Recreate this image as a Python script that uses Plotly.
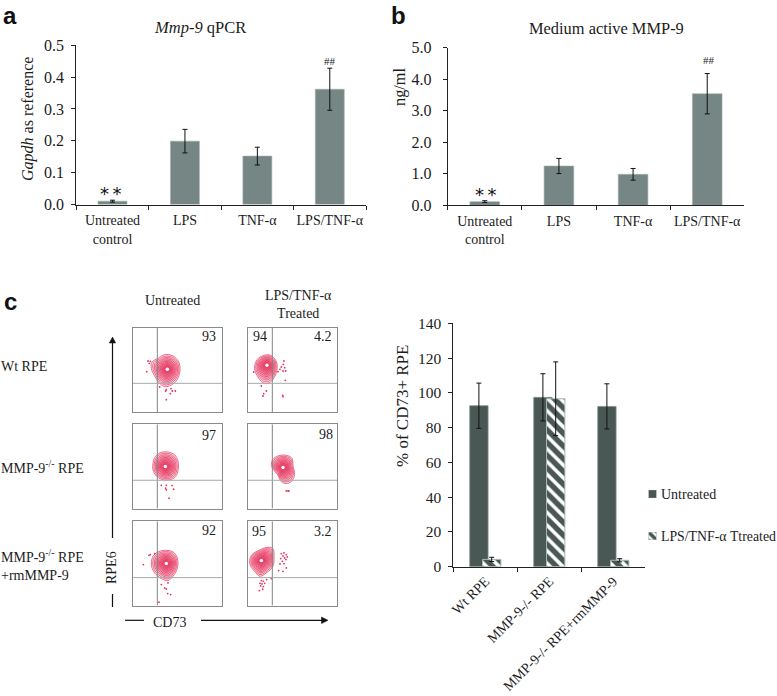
import plotly.graph_objects as go

# ---- bar data
treatments = ["Untreated<br>control", "LPS", "TNF-α", "LPS/TNF-α"]
qpcr_values = [0.0105, 0.199, 0.152, 0.362]
qpcr_errors = [0.003, 0.037, 0.028, 0.066]
qpcr_ticks = [0, 0.1, 0.2, 0.3, 0.4, 0.5]
qpcr_ticktext = ["0.0", "0.1", "0.2", "0.3", "0.4", "0.5"]

medium_values = [0.116, 1.247, 0.983, 3.54]
medium_errors = [0.03, 0.24, 0.185, 0.64]
medium_ticks = [0, 1, 2, 3, 4, 5]
medium_ticktext = ["0.0", "1.0", "2.0", "3.0", "4.0", "5.0"]

cell_groups = ["Wt RPE", "MMP-9-/- RPE", "MMP-9-/- RPE+rmMMP-9"]
untreated_values = [92.6, 97.4, 92.2]
untreated_errors = [13, 13.6, 13]
treated_values = [4.2, 96.6, 3.7]
treated_errors = [1.2, 21.2, 0.9]
percent_ticks = [0, 20, 40, 60, 80, 100, 120, 140]

# ---- flow plots, read in units of 1/3 px from the top left corner of each box
ring_scales = [1, 0.9, 0.8, 0.71, 0.62, 0.54, 0.46, 0.39, 0.32, 0.26, 0.2, 0.15, 0.1]

outer_1 = [(57, 103), (75, 92), (95, 81), (120, 85), (137, 102), (141, 130), (133, 155), (115, 172), (95, 177), (78, 165), (65, 145), (55, 122)]
outer_2 = [(20, 115), (28, 95), (45, 84), (65, 82), (80, 93), (87, 108), (85, 135), (75, 155), (60, 167), (45, 165), (30, 148), (21, 130)]
outer_3 = [(60, 118), (65, 100), (80, 86), (105, 83), (125, 92), (135, 110), (135, 140), (125, 160), (105, 167), (85, 165), (70, 155), (60, 137)]
outer_4 = [(70, 120), (75, 105), (90, 95), (115, 93), (132, 102), (135, 125), (140, 150), (130, 172), (115, 178), (100, 172), (88, 150), (75, 135)]
outer_5 = [(55, 125), (60, 105), (75, 92), (95, 87), (120, 92), (133, 110), (133, 140), (120, 165), (105, 178), (85, 172), (65, 155), (57, 140)]
outer_6 = [(5, 118), (12, 100), (35, 86), (60, 78), (75, 82), (78, 110), (75, 135), (55, 155), (35, 165), (20, 150), (8, 135)]

centers = [(103, 125), (57, 113), (97, 127), (105, 130), (100, 127), (40, 118)]

dots_1 = [(45, 100), (49, 107), (52, 101), (41, 132), (80, 178), (100, 186), (114, 183), (118, 190), (127, 190), (112, 198), (100, 216), (98, 190)]
dots_2 = [(108, 100), (106, 110), (100, 118), (110, 120), (96, 125), (105, 130), (113, 130), (112, 158), (90, 132), (104, 203), (105, 207), (45, 205), (47, 198), (55, 190), (40, 175), (17, 133)]
dots_3 = [(85, 183), (100, 183), (117, 184), (98, 192), (100, 197), (122, 195), (108, 222)]
dots_4 = [(115, 200), (120, 200), (123, 200)]
dots_5 = [(48, 102), (52, 100), (65, 97), (31, 130), (85, 190), (100, 203), (105, 185), (104, 217), (113, 220), (78, 243), (95, 200)]
dots_6 = [(100, 97), (108, 95), (115, 100), (118, 107), (105, 104), (110, 110), (98, 112), (114, 115), (103, 120), (96, 128), (108, 127), (115, 140), (92, 148), (105, 150),
          (40, 178), (46, 180), (36, 186), (42, 188), (50, 186), (38, 194), (46, 196), (44, 204), (34, 208), (56, 175), (70, 172)]

gate_x = [73, 73, 73, 73, 73, 73]
gate_y = [167, 167, 168, 168, 169, 169]

# text, x, y, side
quadrant_labels = [
    [("93", 255, 27, "right")],
    [("94", 10, 27, "left"), ("4.2", 259, 27, "right")],
    [("97", 255, 33, "right")],
    [("98", 260, 30, "right")],
    [("92", 255, 28, "right")],
    [("95", 7, 30, "left"), ("3.2", 257, 30, "right")],
]

outers = [outer_1, outer_2, outer_3, outer_4, outer_5, outer_6]
dots = [dots_1, dots_2, dots_3, dots_4, dots_5, dots_6]

W, H = 777, 696
SERIF = "Liberation Serif"
SANS = "Liberation Sans"
INK = "#1c1c1c"
BAR = "#758684"
DARK = "#4a5855"
RED = "#e6305a"


def dom_x(a, b):
    return [a / W, b / W]


def dom_y(top, bottom):
    return [1 - bottom / H, 1 - top / H]


def px(x, y):
    return x / W, 1 - y / H


fig = go.Figure()
layout = {}


def axis_style(size=14, **kw):
    d = dict(showgrid=False, zeroline=False, showline=True, linecolor="#222222", linewidth=1,
             ticks="outside", ticklen=4, tickcolor="#222222", tickwidth=1, automargin=False,
             tickfont=dict(family=SERIF, size=size, color=INK))
    d.update(kw)
    return d


def add_bars(n, values, errors, ticks, ticktext, rng, xdom, ydom, standoff):
    fig.add_trace(go.Bar(
        x=treatments, y=values, xaxis=f"x{n}", yaxis=f"y{n}", showlegend=False,
        marker=dict(color=BAR, line=dict(color="#a3b1af", width=0.6)),
        error_y=dict(type="data", array=errors, color="#111111", thickness=1, width=2.5),
    ))
    layout[f"xaxis{n}"] = axis_style(domain=dom_x(*xdom), anchor=f"y{n}", type="category",
                                     tickson="boundaries", tickangle=0, ticklabelstandoff=3)
    layout[f"yaxis{n}"] = axis_style(size=16, domain=dom_y(*ydom), anchor=f"x{n}", range=rng,
                                     tickvals=ticks, ticktext=ticktext, ticklabelstandoff=standoff)


add_bars(1, qpcr_values, qpcr_errors, qpcr_ticks, qpcr_ticktext, [0, 0.5], (76.3, 366), (45.3, 204.5), 4)
add_bars(2, medium_values, medium_errors, medium_ticks, medium_ticktext, [0, 5], (447.7, 744.3), (47.7, 205.3), 8)

# grouped bars of panel c
fig.add_trace(go.Bar(
    x=cell_groups, y=untreated_values, xaxis="x3", yaxis="y3", showlegend=False,
    marker=dict(color=DARK, line=dict(color="#84938f", width=0.8)),
    error_y=dict(type="data", array=untreated_errors, color="#111111", thickness=1, width=2.5),
))
fig.add_trace(go.Bar(
    x=cell_groups, y=treated_values, xaxis="x3", yaxis="y3", showlegend=False,
    marker=dict(color="white", line=dict(color="#a7b8b5", width=1),
                pattern=dict(shape="\\", fgcolor=DARK, bgcolor="white", fgopacity=1, size=9, solidity=0.6)),
    error_y=dict(type="data", array=treated_errors, color="#111111", thickness=1, width=2.5),
))
layout["xaxis3"] = axis_style(domain=dom_x(453.3, 645.3), anchor="y3", type="category",
                              tickson="boundaries", tickangle=-45)
layout["yaxis3"] = axis_style(size=15.5, domain=dom_y(323.3, 566.7), anchor="x3", range=[0, 140],
                              tickvals=percent_ticks, ticklabelstandoff=4)

annotations = []
shapes = []


def note(text, x, y, size=14, family=SERIF, anchor="center", angle=0, color=INK, align="center"):
    fx, fy = px(x, y)
    annotations.append(dict(text=text, x=fx, y=fy, xref="paper", yref="paper", showarrow=False,
                            xanchor=anchor, yanchor="middle", textangle=angle, align=align,
                            font=dict(family=family, size=size, color=color)))


# flow plots
box_left = [133, 248]
box_top = [327.7, 424.3, 521.3]
for i in range(6):
    n = 4 + i
    col, row = i % 2, i // 2
    left, top = box_left[col], box_top[row]
    layout[f"xaxis{n}"] = dict(domain=dom_x(left, left + 89.3), anchor=f"y{n}", range=[0, 268], automargin=False,
                               showticklabels=False, ticks="", showgrid=False, zeroline=False,
                               showline=True, mirror=True, linecolor="#8a8a8a", linewidth=1)
    layout[f"yaxis{n}"] = dict(domain=dom_y(top, top + 84.3), anchor=f"x{n}", range=[253, 0], automargin=False,
                               showticklabels=False, ticks="", showgrid=False, zeroline=False,
                               showline=True, mirror=True, linecolor="#8a8a8a", linewidth=1)
    shapes.append(dict(type="line", xref=f"x{n}", yref=f"y{n}", x0=gate_x[i], x1=gate_x[i], y0=0, y1=253,
                       line=dict(color="#7d8583", width=1)))
    shapes.append(dict(type="line", xref=f"x{n}", yref=f"y{n}", x0=0, x1=268, y0=gate_y[i], y1=gate_y[i],
                       line=dict(color="#a4abaa", width=1)))
    cx, cy = centers[i]
    for s in ring_scales:
        pts = outers[i] + outers[i][:1]
        fig.add_trace(go.Scatter(
            x=[cx + (p[0] - cx) * s for p in pts], y=[cy + (p[1] - cy) * s for p in pts],
            mode="lines", line=dict(color=RED, width=0.7, shape="spline", smoothing=1),
            fill="toself", fillcolor="rgba(230,40,85,0.10)",
            xaxis=f"x{n}", yaxis=f"y{n}", showlegend=False, hoverinfo="skip"))
    fig.add_trace(go.Scatter(
        x=[p[0] for p in dots[i]], y=[p[1] for p in dots[i]], mode="markers",
        marker=dict(color=RED, size=1.8), xaxis=f"x{n}", yaxis=f"y{n}", showlegend=False))
    fig.add_trace(go.Scatter(
        x=[cx], y=[cy], mode="markers", marker=dict(color="white", size=3.5),
        xaxis=f"x{n}", yaxis=f"y{n}", showlegend=False, hoverinfo="skip"))
    for text, tx, ty, side in quadrant_labels[i]:
        annotations.append(dict(text=text, x=tx, y=ty, xref=f"x{n}", yref=f"y{n}", showarrow=False,
                                xanchor=side, yanchor="middle", font=dict(family=SERIF, size=14, color=INK)))

# small legend swatches on their own axes
for n, top, marker in [
    (10, 490, dict(color=DARK, line=dict(color="#84938f", width=0.6))),
    (11, 532, dict(color="white", line=dict(color="#a7b8b5", width=1),
                   pattern=dict(shape="\\", fgcolor=DARK, bgcolor="white", fgopacity=1, size=6, solidity=0.6))),
]:
    fig.add_trace(go.Bar(x=[0], y=[1], width=[1], marker=marker, xaxis=f"x{n}", yaxis=f"y{n}",
                         showlegend=False, hoverinfo="skip"))
    layout[f"xaxis{n}"] = dict(domain=dom_x(648.5, 656.5), anchor=f"y{n}", range=[-0.5, 0.5], visible=False, automargin=False)
    layout[f"yaxis{n}"] = dict(domain=dom_y(top, top + 8), anchor=f"x{n}", range=[0, 1], visible=False, automargin=False)

note("Untreated", 659, 494, size=14, anchor="left")
note("LPS/TNF-α Ttreated", 659, 536, size=13.8, anchor="left")

# panel text
note("<b>a</b>", 10, 16, size=24, family=SANS, color="#111111")
note("<b>b</b>", 398, 15, size=24, family=SANS, color="#111111")
note("<b>c</b>", 10, 301, size=24, family=SANS, color="#111111")

note("<i>Mmp-9</i> qPCR", 200, 27, size=16.5)
note("Medium active MMP-9", 606, 29, size=16.4)
note("<i>Gapdh</i> as reference", 28, 119, size=16, angle=-90)
note("ng/ml", 399, 87, size=16.3, angle=-90)
note("% of CD73+ RPE", 402, 406, size=17, angle=-90)
note("*\u2009*", 111, 193, size=18, family="DejaVu Sans", color="#111111")
note("##", 330, 61, size=11)
note("*\u2009*", 485.7, 195, size=18, family="DejaVu Sans", color="#111111")
note("##", 709, 60, size=11)

note("Untreated", 172, 300)
note("LPS/TNF-α<br>Treated", 298, 304)
note("Wt RPE", -1, 367, anchor="left")
note("MMP-9<sup>-/-</sup> RPE", -1, 467, anchor="left")
note("MMP-9<sup>-/-</sup> RPE<br>+rmMMP-9", -1, 565, anchor="left", align="left")
note("RPE6", 111, 568, size=14, angle=-90)
note("CD73", 169, 622, size=14)


def paper_line(x0, y0, x1, y1):
    a0, b0 = px(x0, y0)
    a1, b1 = px(x1, y1)
    shapes.append(dict(type="line", xref="paper", yref="paper", x0=a0, y0=b0, x1=a1, y1=b1,
                       line=dict(color="#111111", width=1.2)))


def paper_head(points):
    path = "M" + " L".join("%.5f,%.5f" % px(*p) for p in points) + " Z"
    shapes.append(dict(type="path", xref="paper", yref="paper", path=path,
                       fillcolor="#111111", line=dict(color="#111111", width=0.5)))


# axis arrows of the flow plots
paper_line(112.5, 607, 112.5, 594)
paper_line(112.5, 538, 112.5, 341)
paper_head([(112.5, 337), (109.3, 343), (115.7, 343)])
paper_line(125, 620.3, 144, 620.3)
paper_line(201, 620.3, 323, 620.3)
paper_head([(328, 620.3), (321.5, 617), (321.5, 623.6)])

fig.update_layout(
    width=W, height=H, margin=dict(l=0, r=0, t=0, b=0), paper_bgcolor="white", plot_bgcolor="white",
    barmode="group", bargap=0.6, bargroupgap=0, showlegend=False,
    annotations=annotations, shapes=shapes, **layout,
)
# bar widths per panel
fig.update_traces(selector=dict(type="bar", xaxis="x1"), width=0.4)
fig.update_traces(selector=dict(type="bar", xaxis="x2"), width=0.4)
fig.update_traces(selector=dict(type="bar", xaxis="x3"), width=0.287)

fig.write_html("out.html", config=dict(displayModeBar=False),
               post_script="document.body.style.margin='0';document.body.style.overflow='hidden';")
